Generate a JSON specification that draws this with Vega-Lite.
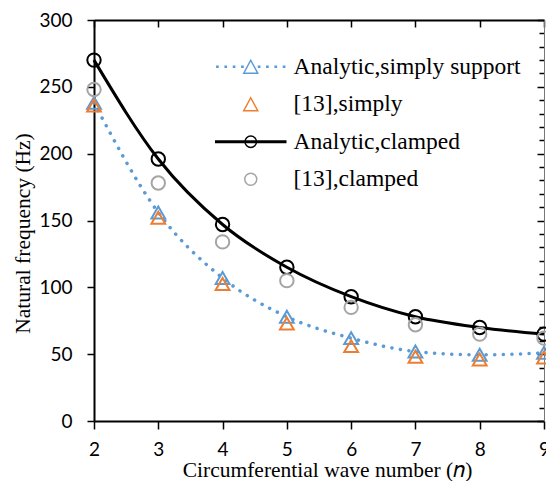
{
  "$schema": "https://vega.github.io/schema/vega-lite/v6.json",
  "width": 450,
  "height": 401,
  "autosize": "none",
  "padding": {"left": 94, "top": 20, "right": 2, "bottom": 60},
  "background": "white",
  "config": {"view": {"stroke": null}, "legend": {"symbolOpacity": 1}},
  "data": {"values": [
    {"n": 2, "series": "Analytic,simply support", "f": 238},
    {"n": 3, "series": "Analytic,simply support", "f": 156},
    {"n": 4, "series": "Analytic,simply support", "f": 107},
    {"n": 5, "series": "Analytic,simply support", "f": 78},
    {"n": 6, "series": "Analytic,simply support", "f": 62},
    {"n": 7, "series": "Analytic,simply support", "f": 52},
    {"n": 8, "series": "Analytic,simply support", "f": 49.5},
    {"n": 9, "series": "Analytic,simply support", "f": 51},
    {"n": 2, "series": "[13],simply", "f": 236},
    {"n": 3, "series": "[13],simply", "f": 152},
    {"n": 4, "series": "[13],simply", "f": 102.5},
    {"n": 5, "series": "[13],simply", "f": 73},
    {"n": 6, "series": "[13],simply", "f": 56},
    {"n": 7, "series": "[13],simply", "f": 48},
    {"n": 8, "series": "[13],simply", "f": 46},
    {"n": 9, "series": "[13],simply", "f": 47.5},
    {"n": 2, "series": "Analytic,clamped", "f": 270},
    {"n": 3, "series": "Analytic,clamped", "f": 196},
    {"n": 4, "series": "Analytic,clamped", "f": 147},
    {"n": 5, "series": "Analytic,clamped", "f": 115},
    {"n": 6, "series": "Analytic,clamped", "f": 93},
    {"n": 7, "series": "Analytic,clamped", "f": 78},
    {"n": 8, "series": "Analytic,clamped", "f": 70},
    {"n": 9, "series": "Analytic,clamped", "f": 65},
    {"n": 2, "series": "[13],clamped", "f": 248},
    {"n": 3, "series": "[13],clamped", "f": 178},
    {"n": 4, "series": "[13],clamped", "f": 134},
    {"n": 5, "series": "[13],clamped", "f": 105},
    {"n": 6, "series": "[13],clamped", "f": 85},
    {"n": 7, "series": "[13],clamped", "f": 72},
    {"n": 8, "series": "[13],clamped", "f": 65},
    {"n": 9, "series": "[13],clamped", "f": 62}
  ]},
  "resolve": {"axis": {"x": "independent", "y": "independent"}},
  "layer": [
    {
      "transform": [{"filter": "datum.series === 'Analytic,simply support'"}],
      "mark": {"type": "line", "interpolate": "monotone", "color": "#5B9BD5", "strokeWidth": 3.5, "strokeDash": [0.1, 8.5], "strokeCap": "round"},
      "encoding": {
        "x": {"field": "n", "type": "quantitative", "scale": {"domain": [2, 9], "nice": false, "zero": false},
          "axis": {"values": [2, 3, 4, 5, 6, 7, 8, 9], "grid": false, "domainColor": "black", "domainWidth": 2, "tickColor": "black", "tickWidth": 1.5, "tickSize": 8,
            "labelFont": "Lato", "labelFontSize": 19, "labelColor": "black", "labelPadding": 11, "labelFlush": false,
            "title": "Circumferential wave number (𝑛)", "titleFont": "Liberation Serif", "titleFontSize": 21.5, "titleFontWeight": "normal", "titleColor": "black", "titleX": 233, "titleY": 55.5, "titleBaseline": "alphabetic"}},
        "y": {"field": "f", "type": "quantitative", "scale": {"domain": [0, 300], "nice": false},
          "axis": {"values": [0, 50, 100, 150, 200, 250, 300], "grid": false, "domainColor": "black", "domainWidth": 2, "tickColor": "black", "tickWidth": 1.5, "tickSize": 7,
            "labelFont": "Lato", "labelFontSize": 19, "labelColor": "black", "labelPadding": 15, "labelFlush": false,
            "title": "Natural frequency (Hz)", "titleFont": "Liberation Serif", "titleFontSize": 21.5, "titleFontWeight": "normal", "titleColor": "black", "titlePadding": 4, "titleY": 213}}
      }
    },
    {
      "transform": [{"filter": "datum.series === 'Analytic,simply support'"}],
      "mark": {"type": "point", "shape": "triangle-up", "filled": false, "size": 190, "strokeWidth": 2, "color": "#5B9BD5", "opacity": 1},
      "encoding": {
        "x": {"field": "n", "type": "quantitative", "scale": {"domain": [2, 9], "nice": false, "zero": false},
          "axis": {"values": [2, 3, 4, 5, 6, 7, 8, 9], "grid": false, "domain": false, "labels": false, "title": null, "tickColor": "black", "tickWidth": 1.5, "tickSize": -7}},
        "y": {"field": "f", "type": "quantitative", "scale": {"domain": [0, 300], "nice": false},
          "axis": {"values": [0, 10, 20, 30, 40, 50, 60, 70, 80, 90, 100, 110, 120, 130, 140, 150, 160, 170, 180, 190, 200, 210, 220, 230, 240, 250, 260, 270, 280, 290, 300], "grid": false, "domain": false, "labels": false, "title": null, "tickColor": "black", "tickWidth": 1.5,
            "tickSize": {"condition": {"test": "datum.value % 50 === 0", "value": -7}, "value": -5}}}
      }
    },
    {
      "transform": [{"filter": "datum.series === '[13],simply'"}],
      "mark": {"type": "point", "shape": "triangle-up", "filled": false, "size": 190, "strokeWidth": 2, "color": "#ED7D31", "opacity": 1},
      "encoding": {
        "x": {"field": "n", "type": "quantitative", "scale": {"domain": [2, 9], "nice": false, "zero": false},
          "axis": {"orient": "top", "grid": false, "domainColor": "black", "domainWidth": 2, "ticks": false, "labels": false, "title": null}},
        "y": {"field": "f", "type": "quantitative", "scale": {"domain": [0, 300], "nice": false},
          "axis": {"orient": "right", "grid": false, "domainColor": "#777777", "domainWidth": 1, "ticks": false, "labels": false, "title": null}}
      }
    },
    {
      "transform": [{"filter": "datum.series === 'Analytic,clamped'"}],
      "mark": {"type": "line", "interpolate": "monotone", "color": "black", "strokeWidth": 3},
      "encoding": {
        "x": {"field": "n", "type": "quantitative", "scale": {"domain": [2, 9], "nice": false, "zero": false}, "axis": null},
        "y": {"field": "f", "type": "quantitative", "scale": {"domain": [0, 300], "nice": false}, "axis": null}
      }
    },
    {
      "transform": [{"filter": "datum.series === 'Analytic,clamped'"}],
      "mark": {"type": "point", "shape": "circle", "filled": false, "size": 180, "strokeWidth": 2, "color": "black", "opacity": 1},
      "encoding": {
        "x": {"field": "n", "type": "quantitative", "scale": {"domain": [2, 9], "nice": false, "zero": false}, "axis": null},
        "y": {"field": "f", "type": "quantitative", "scale": {"domain": [0, 300], "nice": false}, "axis": null}
      }
    },
    {
      "transform": [{"filter": "datum.series === '[13],clamped'"}],
      "mark": {"type": "point", "shape": "circle", "filled": false, "size": 180, "strokeWidth": 2, "color": "#A5A5A5", "opacity": 1},
      "encoding": {
        "x": {"field": "n", "type": "quantitative", "scale": {"domain": [2, 9], "nice": false, "zero": false}, "axis": null},
        "y": {"field": "f", "type": "quantitative", "scale": {"domain": [0, 300], "nice": false}, "axis": null}
      }
    },
    {
      "transform": [{"filter": "false"}],
      "mark": {"type": "point", "filled": false, "size": 100, "strokeWidth": 1.5, "opacity": 1},
      "encoding": {
        "x": {"field": "n", "type": "quantitative", "scale": {"domain": [2, 9], "nice": false, "zero": false}, "axis": null},
        "y": {"field": "f", "type": "quantitative", "scale": {"domain": [0, 300], "nice": false}, "axis": null},
        "color": {"field": "series", "type": "nominal",
          "scale": {"domain": ["Analytic,simply support", "[13],simply", "Analytic,clamped", "[13],clamped"], "range": ["#5B9BD5", "#ED7D31", "#000000", "#A5A5A5"]},
          "legend": {"title": null, "orient": "none", "legendX": 145, "legendY": 35, "padding": 0, "labelFont": "Liberation Serif", "labelFontSize": 23.5, "labelColor": "black", "labelOffset": 31, "labelLimit": 400, "rowPadding": 12.5, "symbolSize": 100, "symbolStrokeWidth": 1.5}},
        "shape": {"field": "series", "type": "nominal",
          "scale": {"domain": ["Analytic,simply support", "[13],simply", "Analytic,clamped", "[13],clamped"],
            "range": [
              "M0,-1.3L1.4,1.3L-1.4,1.3Z M-6.79,-0.12h0.24v0.24h-0.24Z M-5.12,-0.12h0.24v0.24h-0.24Z M-3.45,-0.12h0.24v0.24h-0.24Z M-1.79,-0.12h0.24v0.24h-0.24Z M1.55,-0.12h0.24v0.24h-0.24Z M3.21,-0.12h0.24v0.24h-0.24Z M4.88,-0.12h0.24v0.24h-0.24Z M6.55,-0.12h0.24v0.24h-0.24Z",
              "M0,-1.3L1.4,1.3L-1.4,1.3Z",
              "M-7,-0.15H7V0.15H-7Z M1.15,0A1.15,1.15 0 1,1 -1.15,0A1.15,1.15 0 1,1 1.15,0Z",
              "M1.2,0A1.2,1.2 0 1,1 -1.2,0A1.2,1.2 0 1,1 1.2,0Z"
            ]},
          "legend": {"title": null, "orient": "none", "legendX": 145, "legendY": 35, "padding": 0, "labelFont": "Liberation Serif", "labelFontSize": 23.5, "labelColor": "black", "labelOffset": 31, "labelLimit": 400, "rowPadding": 12.5, "symbolSize": 100, "symbolStrokeWidth": 1.5}}
      }
    }
  ]
}
